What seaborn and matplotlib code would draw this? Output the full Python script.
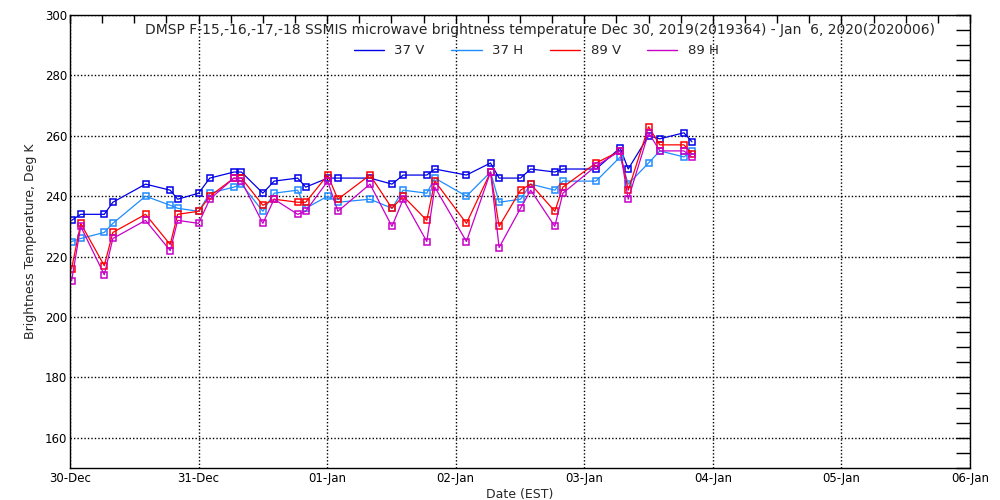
import matplotlib
matplotlib.use("Agg")
import matplotlib.pyplot as plt
import matplotlib.dates as mdates
from matplotlib.lines import Line2D
import pandas as pd
import seaborn as sns

# hours after 30-Dec-2019 00:00 EST
hours = [0.3, 2.0, 6.4, 8.0, 14.1, 18.7, 20.1, 24.0, 26.1, 30.6, 32.0, 36.0,
         38.1, 42.5, 44.0, 48.1, 50.0, 56.0, 60.1, 62.2, 66.6, 68.1, 74.0, 78.5,
         80.1, 84.1, 86.0, 90.5, 92.0, 98.2, 102.7, 104.2, 108.0, 110.1, 114.6, 116.1]

tb_37v = [232, 234, 234, 238, 244, 242, 239, 241, 246, 248, 248, 241,
          245, 246, 243, 246, 246, 246, 244, 247, 247, 249, 247, 251,
          246, 246, 249, 248, 249, 249, 256, 249, 260, 259, 261, 258]
tb_37h = [225, 226, 228, 231, 240, 237, 236, 235, 241, 243, 244, 235,
          241, 242, 236, 240, 238, 239, 236, 242, 241, 246, 240, 248,
          238, 239, 244, 242, 245, 245, 253, 244, 251, 255, 253, 255]
tb_89v = [216, 231, 217, 228, 234, 224, 234, 235, 240, 246, 246, 237,
          239, 238, 238, 247, 239, 247, 236, 240, 232, 245, 231, 248,
          230, 242, 244, 235, 243, 251, 255, 242, 263, 257, 257, 254]
tb_89h = [212, 230, 214, 226, 232, 222, 232, 231, 239, 246, 245, 231,
          239, 234, 235, 245, 235, 244, 230, 239, 225, 243, 225, 248,
          223, 236, 242, 230, 241, 250, 255, 239, 261, 255, 255, 253]

channels = ["37 V", "37 H", "89 V", "89 H"]
colors = ["#0000e8", "#1e8cff", "#ff0000", "#c800c8"]

start = pd.Timestamp("2019-12-30")
times = start + pd.to_timedelta(hours, unit="h")

sns.set_style("white")
plt.rcParams["font.family"] = ["DejaVu Sans"]

fig = plt.figure(figsize=(10, 5), dpi=100)
ax = fig.add_axes([0.07, 0.064, 0.90, 0.906])

for name, vals, c in zip(channels, [tb_37v, tb_37h, tb_89v, tb_89h], colors):
    sns.lineplot(x=times, y=vals, ax=ax, color=c, lw=0.9, marker="s",
                 markersize=5, markerfacecolor="none", markeredgecolor=c,
                 markeredgewidth=1.1, estimator=None, sort=False, legend=False)

ax.set_xlim(start, pd.Timestamp("2020-01-06"))
ax.set_ylim(150, 300)
ax.set_yticks(range(160, 301, 20))
ax.yaxis.set_minor_locator(plt.MultipleLocator(5))
ax.xaxis.set_major_locator(mdates.DayLocator())
ax.xaxis.set_major_formatter(mdates.DateFormatter("%d-%b"))
ax.xaxis.set_minor_locator(mdates.HourLocator(byhour=[6, 12, 18]))

ax.tick_params(axis="both", which="both", direction="in", top=True, right=True,
               colors="black", labelsize=8.5, width=1)
ax.tick_params(axis="y", which="both", length=10, pad=2)
ax.tick_params(axis="x", which="both", length=6, pad=3)
for s in ax.spines.values():
    s.set_color("black")
    s.set_linewidth(1)

ax.grid(True, which="major", color="black", linestyle=(0, (1, 1.5)), linewidth=1)

ax.set_xlabel("Date (EST)", fontsize=9, labelpad=2)
ax.set_ylabel("Brightness Temperature, Deg K", fontsize=9, labelpad=6)

ax.text(0.522, 0.967, "DMSP F-15,-16,-17,-18 SSMIS microwave brightness temperature "
        "Dec 30, 2019(2019364) - Jan  6, 2020(2020006)",
        transform=ax.transAxes, ha="center", va="center", fontsize=10)

handles = [Line2D([0], [0], color=c, lw=1) for c in colors]
ax.legend(handles, channels, loc="center", bbox_to_anchor=(0.518, 0.921),
          ncol=4, frameon=False, fontsize=9.5, handlelength=2.3,
          handletextpad=0.8, columnspacing=2.0)

fig.savefig("out.png", dpi=100)
